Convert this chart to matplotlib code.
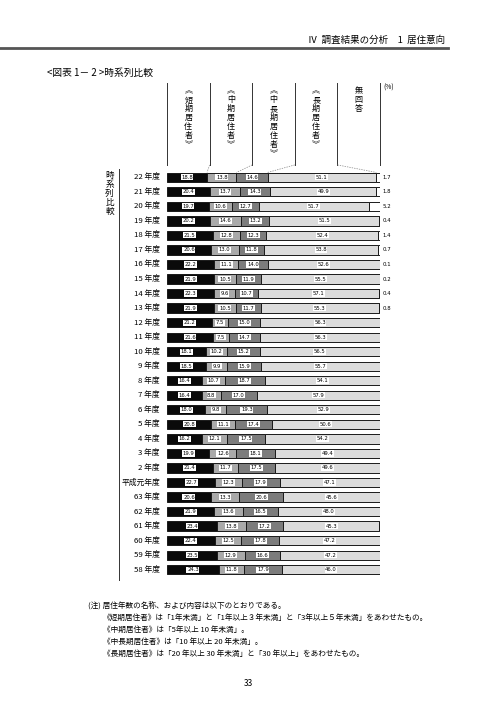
import numpy as np
import matplotlib
matplotlib.use('Agg')
import matplotlib.pyplot as plt

plt.rcParams['font.family'] = ['Noto Sans CJK JP', 'DejaVu Sans']

years = ['22 年度', '21 年度', '20 年度', '19 年度', '18 年度', '17 年度', '16 年度',
         '15 年度', '14 年度', '13 年度', '12 年度', '11 年度', '10 年度', '9 年度',
         '8 年度', '7 年度', '6 年度', '5 年度', '4 年度', '3 年度', '2 年度',
         '平成元年度', '63 年度', '62 年度', '61 年度', '60 年度', '59 年度', '58 年度']
short = [18.8, 20.4, 19.7, 20.2, 21.5, 20.6, 22.2, 21.9, 22.3, 21.9, 21.2, 21.6, 18.1, 18.5,
         16.4, 16.4, 18.0, 20.8, 16.2, 19.9, 21.4, 22.7, 20.6, 21.9, 23.4, 22.4, 23.5, 24.3]
middle = [13.8, 13.7, 10.6, 14.6, 12.8, 13.0, 11.1, 10.5, 9.6, 10.5, 7.5, 7.5, 10.2, 9.9,
          10.7, 8.8, 9.8, 11.1, 12.1, 12.6, 11.7, 12.3, 13.3, 13.6, 13.8, 12.5, 12.9, 11.8]
midlong = [14.6, 14.3, 12.7, 13.2, 12.3, 11.8, 14.0, 11.9, 10.7, 11.7, 15.0, 14.7, 15.2, 15.9,
           18.7, 17.0, 19.3, 17.4, 17.5, 18.1, 17.5, 17.9, 20.6, 16.5, 17.2, 17.8, 16.6, 17.9]
long_ = [51.1, 49.9, 51.7, 51.5, 52.4, 53.8, 52.6, 55.5, 57.1, 55.3, 56.3, 56.3, 56.5, 55.7,
         54.1, 57.9, 52.9, 50.6, 54.2, 49.4, 49.6, 47.1, 45.6, 48.0, 45.3, 47.2, 47.2, 46.0]
noans = [1.7, 1.8, 5.2, 0.4, 1.4, 0.7, 0.1, 0.2, 0.4, 0.8]

headers = ['︽\n短\n期\n居\n住\n者\n︾', '︽\n中\n期\n居\n住\n者\n︾',
           '︽\n中\n長\n期\n居\n住\n者\n︾', '︽\n長\n期\n居\n住\n者\n︾', '無\n回\n答']
colors = ['#0a0a0a', '#a9a9a9', '#7c7c7c', '#dcdcdc', '#ffffff']

n = len(years)
noans_full = noans + [0.0] * (n - len(noans))
series = [short, middle, midlong, long_, noans_full]

fig = plt.figure(figsize=(4.96, 7.02), dpi=100)
W, H = 496.0, 702.0
ax = fig.add_axes([167 / W, 1 - 577 / H, 213 / W, 407 / H])
ax.set_xlim(0, 100)
ax.set_ylim(n - 0.5, -0.5)
ax.axis('off')

y = np.arange(n)
left = np.zeros(n)
for k, vals in enumerate(series):
    vals = np.array(vals)
    ax.barh(y, vals, left=left, height=0.64, color=colors[k],
            edgecolor='#1a1a1a', linewidth=0.7)
    if k < 4:
        for i in range(n):
            ax.text(left[i] + vals[i] / 2, i, '%.1f' % vals[i], ha='center', va='center',
                    fontsize=4.2, color='black', family='DejaVu Sans',
                    fontstretch='condensed',
                    bbox=dict(boxstyle='square,pad=0.1', fc='white', ec='none'))
    left = left + vals

for i, v in enumerate(noans):
    ax.text(103.3, i, '%.1f' % v, ha='center', va='center', fontsize=4.3,
            family='DejaVu Sans', fontstretch='condensed')

# row labels
for i, lab in enumerate(years):
    ax.text(-3.3, i, lab, ha='right', va='center', fontsize=5.6)

# header boxes above the bars
edges = np.linspace(0, 100, 6)
ytop, ybot = -6.5, -0.85
for e in edges:
    ax.plot([e, e], [ytop, ybot], color='#333333', lw=0.7, clip_on=False)
for k, h in enumerate(headers):
    ax.text((edges[k] + edges[k + 1]) / 2, ytop + 0.25, h, ha='center', va='top',
            fontsize=5.8, linespacing=1.0, clip_on=False)
ax.text(101.5, ytop + 0.05, '(%)', ha='left', va='top', fontsize=4.8)

# dashed connectors from header to first bar
first = np.cumsum([0] + [s[0] for s in series])
for k in range(1, 5):
    ax.plot([edges[k], first[k]], [ybot, -0.33], color='#888888', lw=0.5,
            ls=(0, (2, 1.5)), clip_on=False)

# left vertical line and side label
ax.plot([-22.5, -22.5], [-0.6, n - 0.3], color='#333333', lw=0.7, clip_on=False)
ax.text(-27, -0.4, '時\n系\n列\n比\n較', ha='center', va='top', fontsize=6.2,
        linespacing=1.0, clip_on=False)

# page header
fig.add_artist(plt.Line2D([0, 448 / W], [1 - 48 / H, 1 - 48 / H], color='#555555', lw=2))
fig.text(445 / W, 1 - 40 / H, 'Ⅳ  調査結果の分析　1  居住意向', ha='right', va='center',
         fontsize=6.8, style='italic')
fig.text(47 / W, 1 - 73 / H, '<図表 1－ 2 >時系列比較', ha='left', va='center', fontsize=7)

notes = ['(注) 居住年数の名称、および内容は以下のとおりである。',
         '《短期居住者》は「1年未満」と「1年以上３年未満」と「3年以上５年未満」をあわせたもの。',
         '《中期居住者》は「5年以上 10 年未満」。',
         '《中長期居住者》は「10 年以上 20 年未満」。',
         '《長期居住者》は「20 年以上 30 年未満」と「30 年以上」をあわせたもの。']
fig.text(88 / W, 1 - 606 / H, notes[0], ha='left', va='center', fontsize=5.5)
for j, t in enumerate(notes[1:]):
    fig.text(103 / W, 1 - (618 + 12 * j) / H, t, ha='left', va='center', fontsize=5.5)

fig.text(248 / W, 1 - 683 / H, '33', ha='center', va='center', fontsize=6)

fig.savefig('out.png', dpi=100)
